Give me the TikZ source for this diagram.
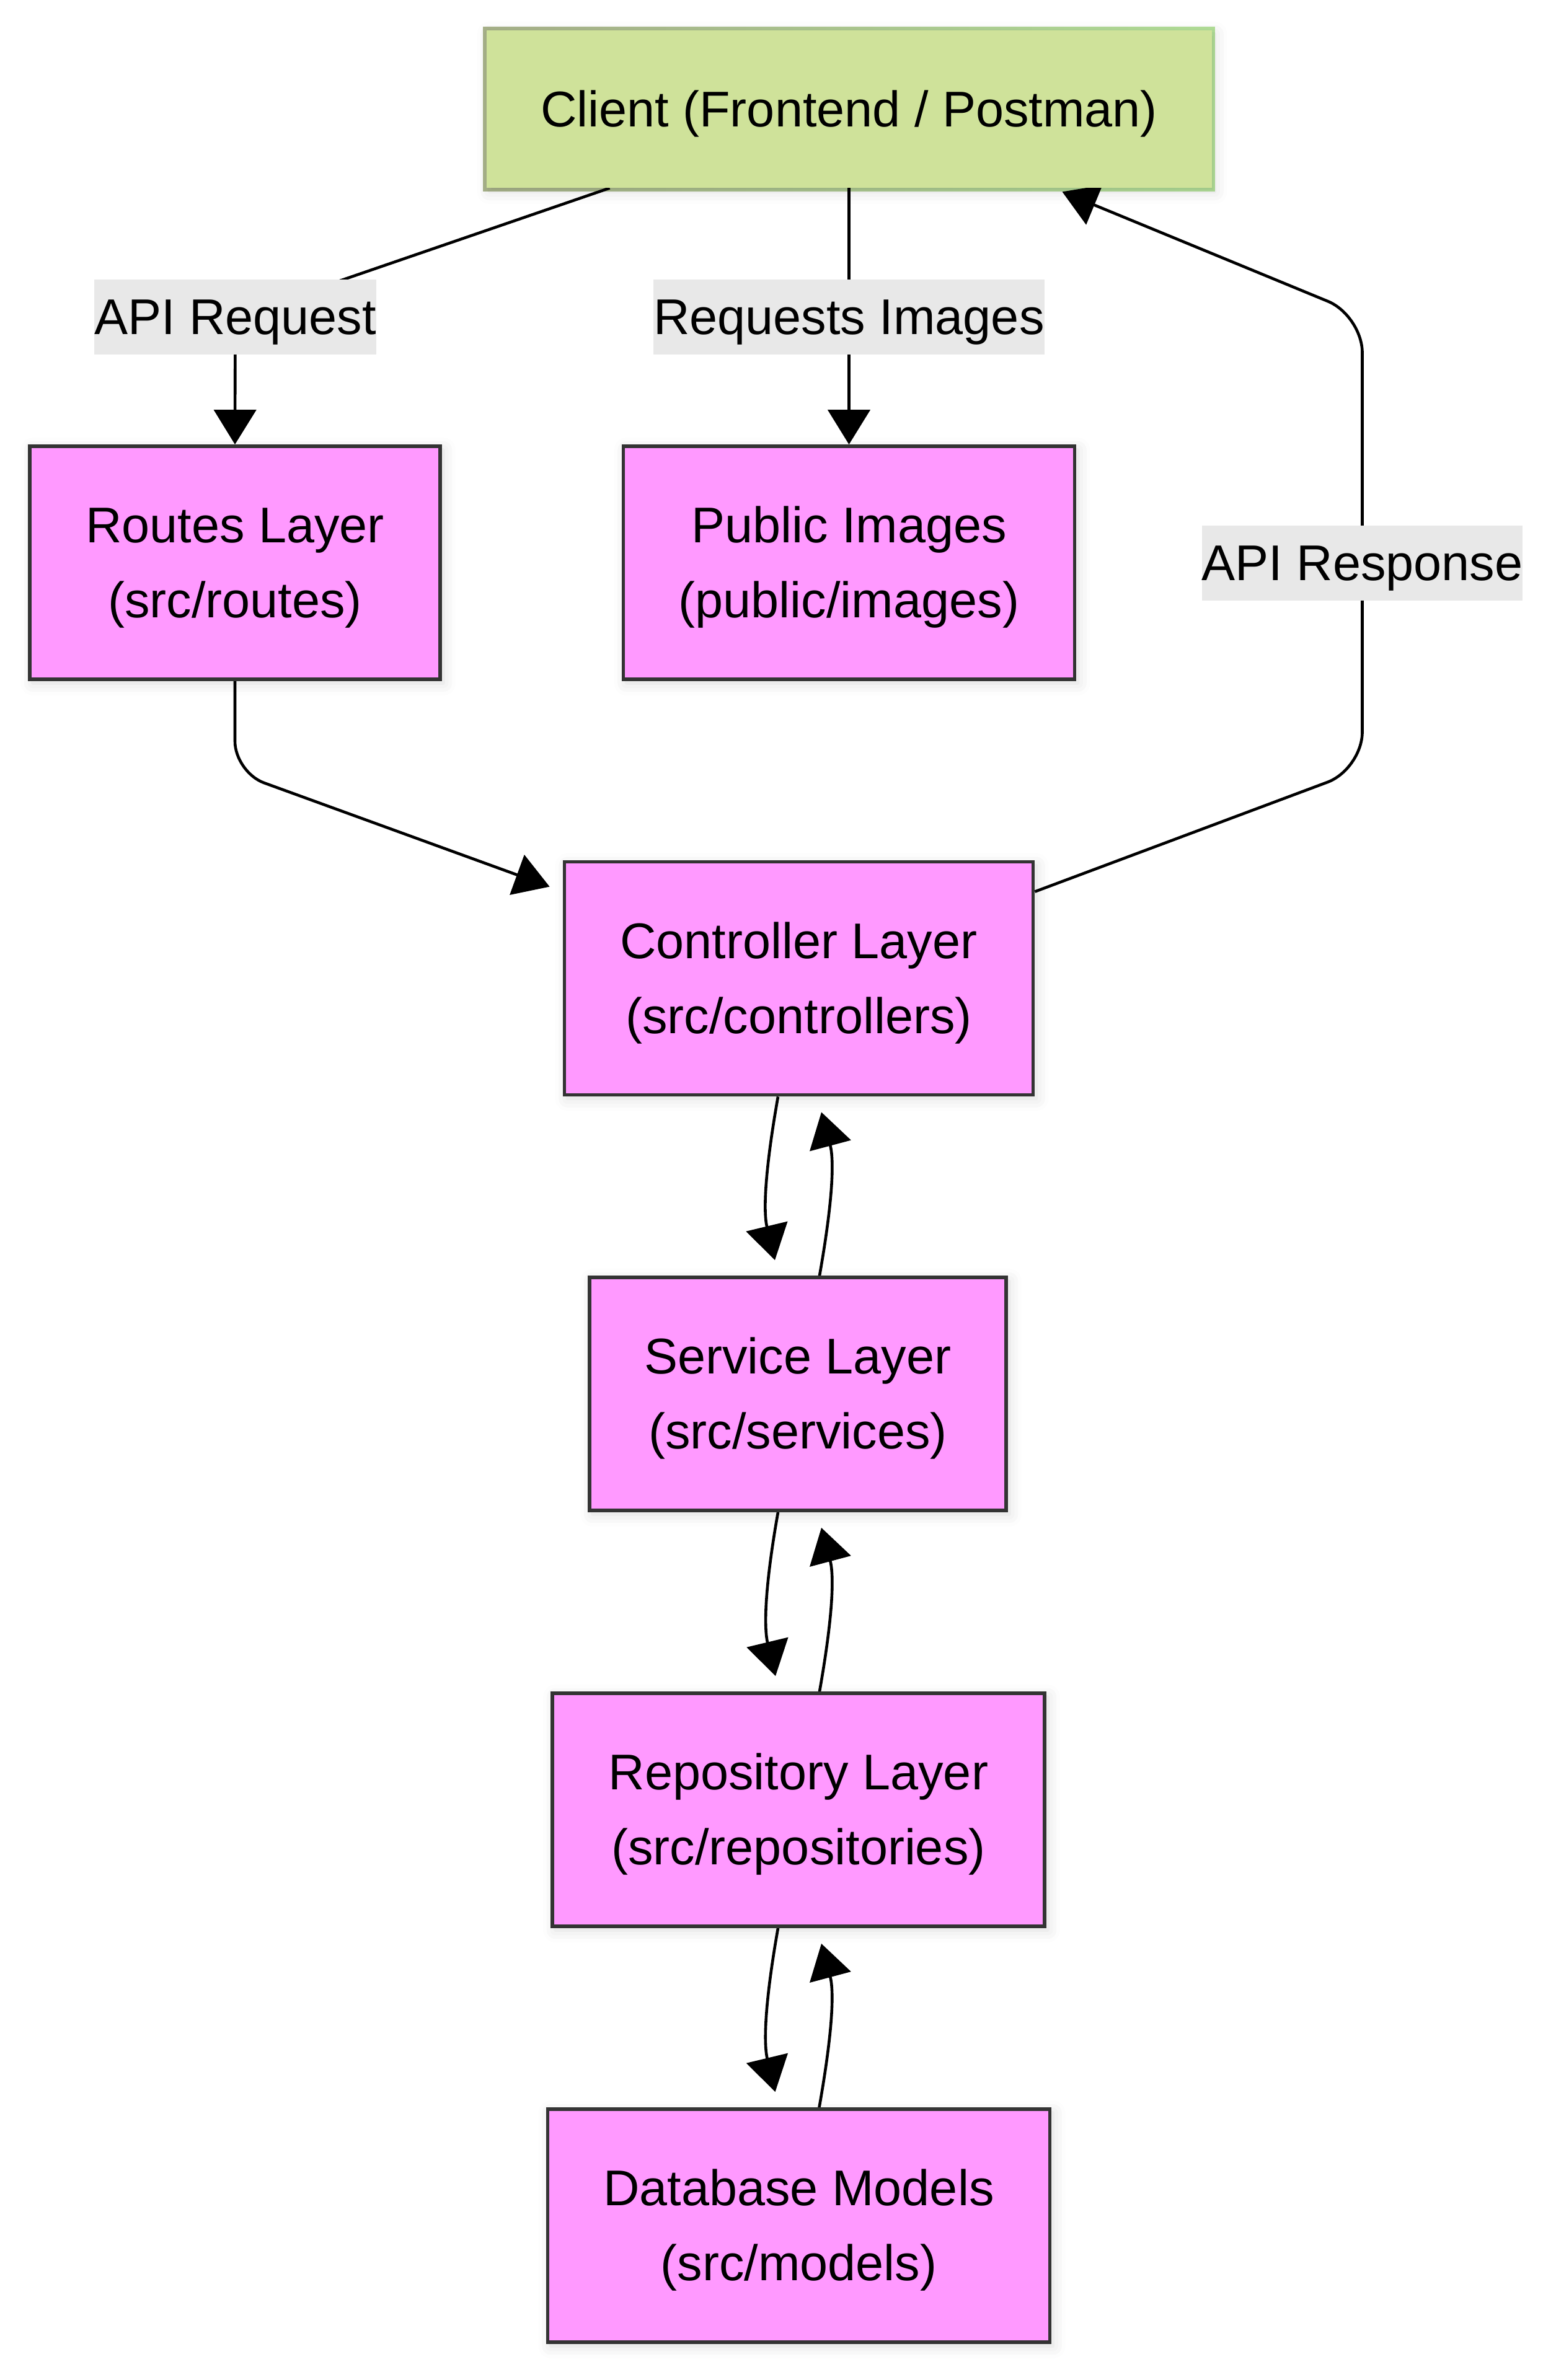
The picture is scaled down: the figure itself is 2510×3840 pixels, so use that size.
\documentclass[tikz,border=0pt]{standalone}
\usepackage{fontspec}
\setmainfont{Liberation Sans}
\usetikzlibrary{arrows.meta,backgrounds,shadows.blur}

\definecolor{layerfill}{HTML}{FF99FF}
\definecolor{layerline}{HTML}{333333}
\definecolor{clientfill}{HTML}{CFE29A}
\definecolor{clientlineL}{HTML}{AAB48C}
\definecolor{clientlineR}{HTML}{B4E29A}
\definecolor{labelfill}{HTML}{E8E8E8}
\newcommand{\boxstrut}{\rule{0pt}{36.5pt}}

\begin{document}
\begin{tikzpicture}[
  x=0.5pt, y=-0.5pt,
  font=\fontsize{40.5pt}{60.5pt}\selectfont,
  boxshadow/.style={blur shadow={shadow xshift=2.5pt, shadow yshift=-3pt, shadow blur radius=10pt, shadow opacity=14}},
  layerbox/.style={rectangle, draw=layerline, line width=2.9pt, fill=layerfill, align=center, minimum height=188pt,
    inner sep=0pt, boxshadow},
  clientbox/.style={rectangle, fill=clientfill, minimum width=585pt, minimum height=127pt, inner sep=0pt,
    boxshadow, execute at begin node=\boxstrut},
  edgelabel/.style={fill=labelfill, inner sep=0pt, minimum height=60.5pt, execute at begin node=\boxstrut},
  flow/.style={draw, line width=2.3pt, -{Triangle[length=28pt,width=34pt]}}
]
\useasboundingbox (0,0) rectangle (2510,3840);

% boxes
\node[clientbox] (client) at (1369.5,176) {Client (Frontend / Postman)};
\node[layerbox, minimum width=331pt] (routes) at (379,908) {\boxstrut Routes Layer\\(src/routes)};
\node[layerbox, minimum width=364pt] (images) at (1369.5,908) {\boxstrut Public Images\\(public/images)};
\node[layerbox, minimum width=378pt] (ctrl) at (1288.5,1578.5) {\boxstrut Controller Layer\\(src/controllers)};
\node[layerbox, minimum width=336pt] (service) at (1287,2249) {\boxstrut Service Layer\\(src/services)};
\node[layerbox, minimum width=397pt] (repo) at (1288,2920) {\boxstrut Repository Layer\\(src/repositories)};
\node[layerbox, minimum width=405pt] (models) at (1288.5,3591) {\boxstrut Database Models\\(src/models)};

% edge labels
\node[edgelabel] (reqlabel) at (379.5,511) {API Request};
\node[edgelabel] (imglabel) at (1369.5,511) {Requests Images};
\node[edgelabel] (resplabel) at (2197.5,908) {API Response};

\begin{scope}[on background layer]
  \shade[left color=clientlineL, right color=clientlineR]
    ([shift={(-2.5pt,2.5pt)}]client.north west) rectangle ([shift={(2.5pt,-2.5pt)}]client.south east);
  \draw[flow] ([xshift=-193pt]client.south) -- (reqlabel.center) -- (routes.north);
  \draw[flow] (client.south) -- (imglabel.center) -- (images.north);
  \draw[flow, rounded corners=25pt] (routes.south) -- (routes.south |- 0,1246)
    -- ([xshift=-10.5pt,yshift=-21.5pt]ctrl.north west);
  \draw[flow, rounded corners=30pt] ([yshift=-25.5pt]ctrl.north east) -- (resplabel.center |- 0,1241)
    -- (resplabel.center) -- (resplabel.center |- 0,509) -- ([xshift=172pt,yshift=-3pt]client.south);
  % calls down, results up
  \draw[flow] ([xshift=-16.75pt]ctrl.south) .. controls +(-23,130) and +(-18,-75) .. ([xshift=-18.5pt,yshift=12.5pt]service.north);
  \draw[flow] ([xshift=17.5pt]service.north) .. controls +(23,-130) and +(20,75) .. ([xshift=18.25pt,yshift=-12.5pt]ctrl.south);
  \draw[flow] ([xshift=-16pt]service.south) .. controls +(-23,130) and +(-18,-75) .. ([xshift=-18.5pt,yshift=12.5pt]repo.north);
  \draw[flow] ([xshift=17pt]repo.north) .. controls +(23,-130) and +(20,75) .. ([xshift=19pt,yshift=-12.5pt]service.south);
  \draw[flow] ([xshift=-16.5pt]repo.south) .. controls +(-23,130) and +(-18,-75) .. ([xshift=-19pt,yshift=12.5pt]models.north);
  \draw[flow] ([xshift=16.5pt]models.north) .. controls +(23,-130) and +(20,75) .. ([xshift=18.5pt,yshift=-12.5pt]repo.south);
\end{scope}
\end{tikzpicture}
\end{document}
